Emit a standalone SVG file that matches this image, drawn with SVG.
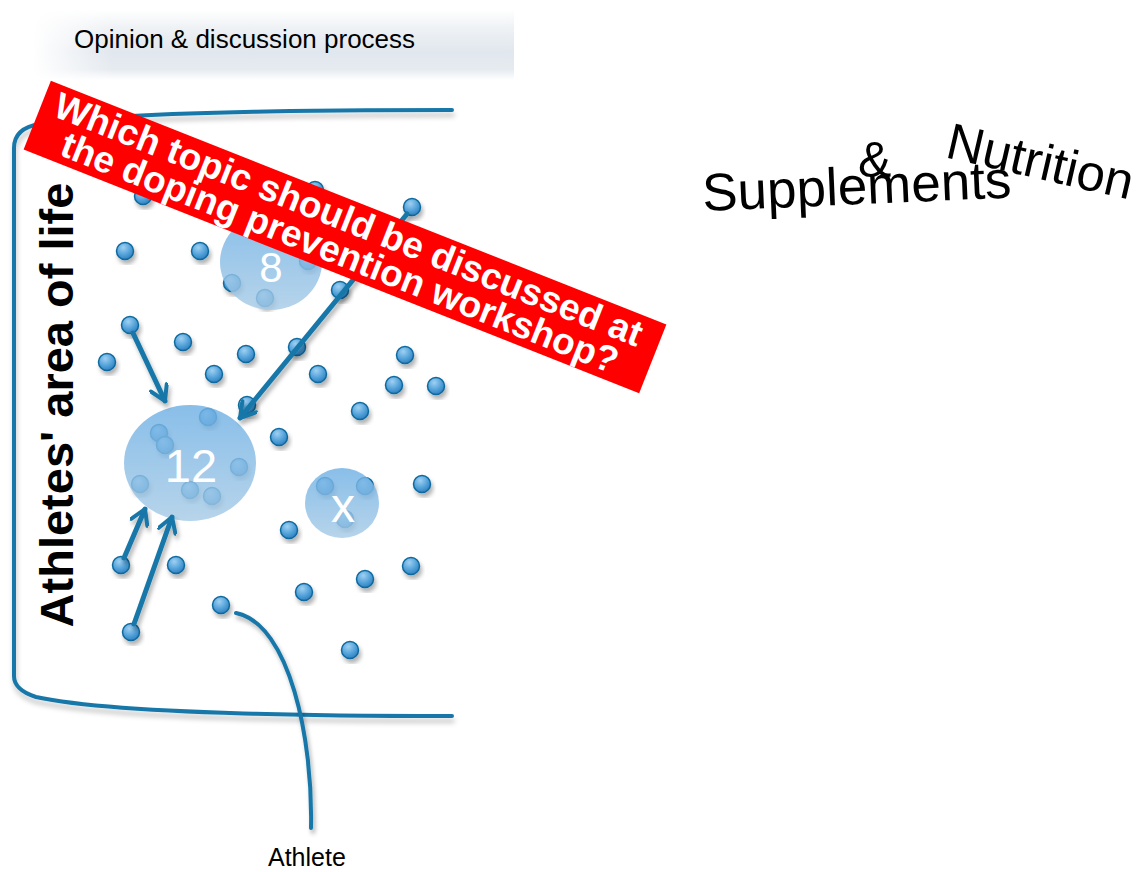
<svg xmlns="http://www.w3.org/2000/svg" width="1138" height="872" viewBox="0 0 1138 872">
<defs>
  <linearGradient id="band" x1="0" y1="0" x2="0" y2="1">
    <stop offset="0" stop-color="#ffffff"/>
    <stop offset="0.25" stop-color="#eff2f5"/>
    <stop offset="0.6" stop-color="#e1e7ee"/>
    <stop offset="0.85" stop-color="#e6ebf0"/>
    <stop offset="1" stop-color="#ffffff"/>
  </linearGradient>
  <linearGradient id="bandFade" x1="0" y1="0" x2="1" y2="0">
    <stop offset="0" stop-color="#ffffff" stop-opacity="1"/>
    <stop offset="1" stop-color="#ffffff" stop-opacity="0"/>
  </linearGradient>
  <radialGradient id="dotFill" cx="0.4" cy="0.3" r="0.75">
    <stop offset="0" stop-color="#9fd0f2"/>
    <stop offset="0.6" stop-color="#4f9fd8"/>
    <stop offset="1" stop-color="#2c7cbc"/>
  </radialGradient>
  <linearGradient id="bubble" x1="0" y1="0" x2="0" y2="1">
    <stop offset="0" stop-color="#6fb0e4"/>
    <stop offset="1" stop-color="#a7cbe6"/>
  </linearGradient>
  <filter id="sh" x="-30%" y="-30%" width="160%" height="160%">
    <feDropShadow dx="2" dy="4" stdDeviation="2" flood-color="#000" flood-opacity="0.3"/>
  </filter>
  <filter id="shl" x="-5%" y="-5%" width="110%" height="110%">
    <feDropShadow dx="1" dy="5" stdDeviation="2.5" flood-color="#000" flood-opacity="0.22"/>
  </filter>
  <marker id="chev" viewBox="0 0 10 10" refX="8.8" refY="5" markerWidth="4" markerHeight="4" orient="auto" markerUnits="strokeWidth">
    <path d="M1.5,0.6 L8.8,5 L1.5,9.4" fill="none" stroke="#1677a8" stroke-width="2" stroke-linecap="round" stroke-linejoin="round"/>
  </marker>
  <style>
    .dot { fill: url(#dotFill); stroke: #106a9e; stroke-width: 1.5; filter: url(#sh); }
    .bub { fill: url(#bubble); opacity: 0.82; }
    .bubtxt { font-family: "Liberation Sans", Arial, sans-serif; fill: #ffffff; text-anchor: middle; }
    .line { fill: none; stroke: #1677a8; stroke-width: 4; stroke-linecap: round; }
    .conn { fill: none; stroke: #1677a8; stroke-width: 5; stroke-linecap: round; marker-end: url(#chev); filter: url(#sh); }
    .lbl { font-family: "Liberation Sans", Arial, sans-serif; fill: #000; }
  </style>
</defs>
<rect width="1138" height="872" fill="#ffffff"/>

<g id="header">
  <rect x="33" y="10" width="481" height="70" fill="url(#band)"/>
  <rect x="33" y="10" width="80" height="70" fill="url(#bandFade)"/>
  <text class="lbl" x="74" y="48" font-size="26">Opinion &amp; discussion process</text>
</g>

<g id="area-frame">
  <path class="line" filter="url(#shl)" d="M452,110 C300,110 120,112 40,124 Q14,128 14,148 L14,676 Q14,690 36,697 C100,711 250,716 452,716"/>
</g>

<g id="area-title">
  <text class="lbl" transform="translate(73,405) rotate(-90)" text-anchor="middle" font-size="47" font-weight="bold">Athletes' area of life</text>
</g>

<g id="dots">
  <g id="dot1"><circle class="dot" cx="125" cy="251" r="8.5"/></g>
  <g id="dot2"><circle class="dot" cx="200" cy="251" r="8.5"/></g>
  <g id="dot3"><circle class="dot" cx="232" cy="283" r="8.5"/></g>
  <g id="dot4"><circle class="dot" cx="265" cy="298" r="8.5"/></g>
  <g id="dot5"><circle class="dot" cx="308" cy="261" r="8.5"/></g>
  <g id="dot6"><circle class="dot" cx="340" cy="290" r="8.5"/></g>
  <g id="dot7"><circle class="dot" cx="412" cy="207" r="8.5"/></g>
  <g id="dot8"><circle class="dot" cx="315" cy="190" r="8.5"/></g>
  <g id="dot9"><circle class="dot" cx="143" cy="196" r="8.5"/></g>
  <g id="dot10"><circle class="dot" cx="130" cy="325" r="8.5"/></g>
  <g id="dot11"><circle class="dot" cx="183" cy="342" r="8.5"/></g>
  <g id="dot12"><circle class="dot" cx="107" cy="362" r="8.5"/></g>
  <g id="dot13"><circle class="dot" cx="214" cy="374" r="8.5"/></g>
  <g id="dot14"><circle class="dot" cx="246" cy="354" r="8.5"/></g>
  <g id="dot15"><circle class="dot" cx="297" cy="347" r="8.5"/></g>
  <g id="dot16"><circle class="dot" cx="318" cy="374" r="8.5"/></g>
  <g id="dot17"><circle class="dot" cx="405" cy="355" r="8.5"/></g>
  <g id="dot18"><circle class="dot" cx="394" cy="385" r="8.5"/></g>
  <g id="dot19"><circle class="dot" cx="436" cy="386" r="8.5"/></g>
  <g id="dot20"><circle class="dot" cx="360" cy="411" r="8.5"/></g>
  <g id="dot21"><circle class="dot" cx="279" cy="437" r="8.5"/></g>
  <g id="dot22"><circle class="dot" cx="247" cy="405" r="8.5"/></g>
  <g id="dot23"><circle class="dot" cx="159" cy="433" r="8.5"/></g>
  <g id="dot24"><circle class="dot" cx="165" cy="445" r="8.5"/></g>
  <g id="dot25"><circle class="dot" cx="208" cy="417" r="8.5"/></g>
  <g id="dot26"><circle class="dot" cx="239" cy="467" r="8.5"/></g>
  <g id="dot27"><circle class="dot" cx="140" cy="484" r="8.5"/></g>
  <g id="dot28"><circle class="dot" cx="190" cy="490" r="8.5"/></g>
  <g id="dot29"><circle class="dot" cx="212" cy="496" r="8.5"/></g>
  <g id="dot30"><circle class="dot" cx="325" cy="486" r="8.5"/></g>
  <g id="dot31"><circle class="dot" cx="365" cy="486" r="8.5"/></g>
  <g id="dot32"><circle class="dot" cx="345" cy="519" r="8.5"/></g>
  <g id="dot33"><circle class="dot" cx="422" cy="484" r="8.5"/></g>
  <g id="dot34"><circle class="dot" cx="289" cy="530" r="8.5"/></g>
  <g id="dot35"><circle class="dot" cx="176" cy="565" r="8.5"/></g>
  <g id="dot36"><circle class="dot" cx="121" cy="565" r="8.5"/></g>
  <g id="dot37"><circle class="dot" cx="131" cy="632" r="8.5"/></g>
  <g id="dot38"><circle class="dot" cx="221" cy="605" r="8.5"/></g>
  <g id="dot39"><circle class="dot" cx="304" cy="592" r="8.5"/></g>
  <g id="dot40"><circle class="dot" cx="365" cy="579" r="8.5"/></g>
  <g id="dot41"><circle class="dot" cx="411" cy="566" r="8.5"/></g>
  <g id="dot42"><circle class="dot" cx="350" cy="650" r="8.5"/></g>
</g>

<g id="cluster-8">
  <ellipse class="bub" cx="271" cy="262" rx="51" ry="48"/>
  <text class="bubtxt" x="271" y="282" font-size="42">8</text>
</g>
<g id="cluster-12">
  <ellipse class="bub" cx="190" cy="463" rx="66" ry="58"/>
  <text class="bubtxt" x="191" y="482" font-size="47">12</text>
</g>
<g id="cluster-x">
  <ellipse class="bub" cx="342" cy="503" rx="37" ry="35"/>
  <text class="bubtxt" x="343" y="522" font-size="48">x</text>
</g>

<g id="connectors">
  <path class="conn" d="M133,333 L165,401"/>
  <path class="conn" d="M407,214 L240,418"/>
  <path class="conn" d="M124,558 L145,509"/>
  <path class="conn" d="M134,624 L172,517"/>
  <path class="line" filter="url(#sh)" d="M236,613 C290,624 313,740 311,828"/>
</g>

<g id="athlete-label">
  <text class="lbl" x="268" y="866" font-size="25">Athlete</text>
</g>

<g id="question-banner" transform="translate(345,237) rotate(21.6)">
  <rect x="-331" y="-37" width="662" height="74" fill="#ff0000"/>
  <text font-family="'Liberation Sans', Arial, sans-serif" font-weight="bold" font-size="37" fill="#ffffff" text-anchor="middle">
    <tspan x="2" y="-5">Which topic should be discussed at</tspan>
    <tspan x="1" y="29">the doping prevention workshop?</tspan>
  </text>
</g>

<g id="topic-words">
  <text class="lbl" transform="translate(703,211) rotate(-2.5)" font-size="53">Supplements</text>
  <text class="lbl" x="858" y="177" font-size="50">&amp;</text>
  <text class="lbl" transform="translate(944,157) rotate(13)" font-size="51">Nutrition</text>
</g>
</svg>
